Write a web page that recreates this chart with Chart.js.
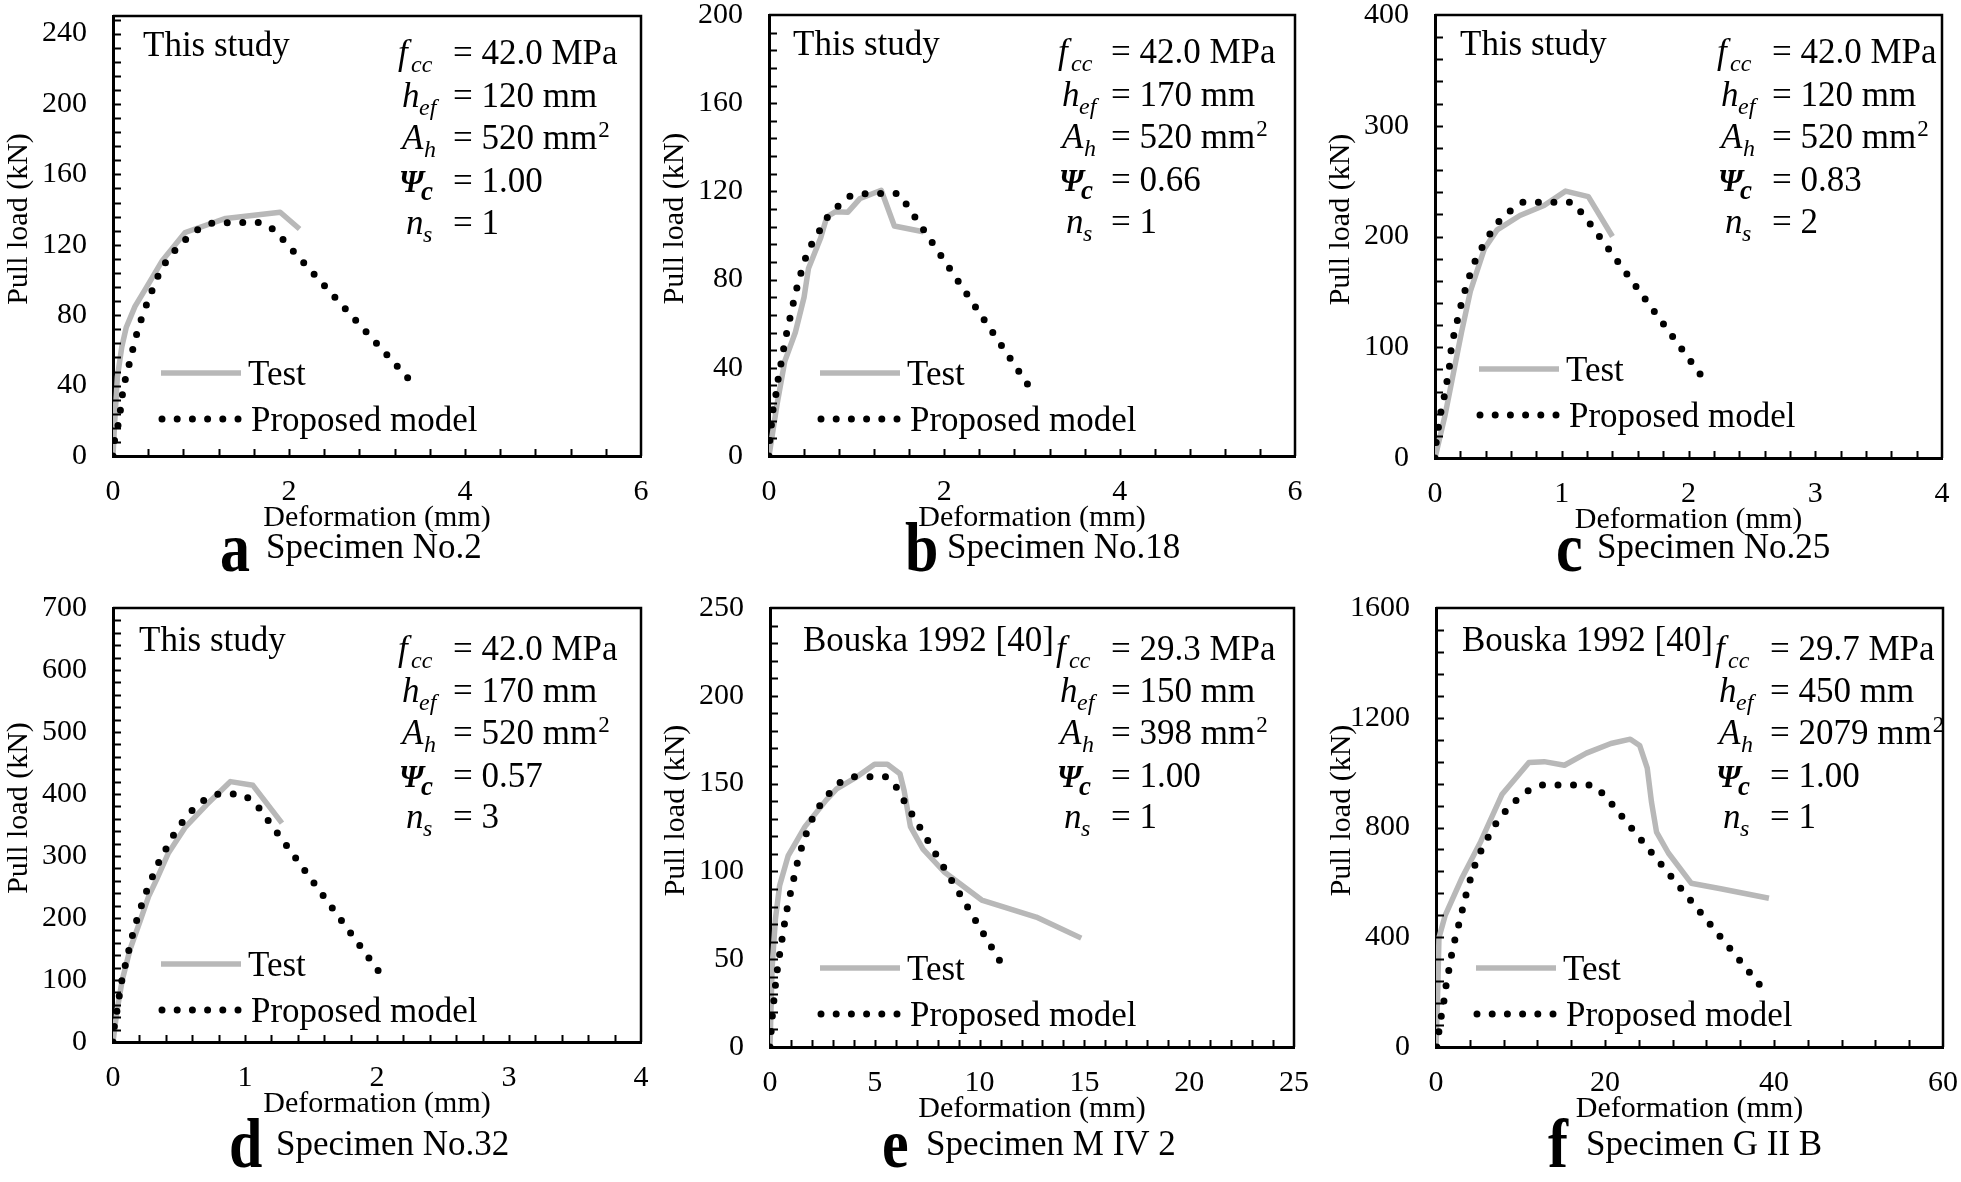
<!DOCTYPE html>
<html>
<head>
<meta charset="utf-8">
<script src="https://cdn.jsdelivr.net/npm/chart.js"></script>
<style>
  html, body { margin: 0; padding: 0; background: #fff; }
  body { width: 1961px; height: 1182px; position: relative; overflow: hidden; }
  canvas { position: absolute; }
</style>
</head>
<body>
<script>
// ---- data ----
// a  Specimen No.2
const testA = [[0,0],[0.02,20],[0.05,45],[0.1,62],[0.15,73],[0.25,85],[0.37,95],[0.56,111],[0.82,127],[1.28,135],[1.9,138.5],[2.12,129]];
const modelA = [[0,0],[0.02,10],[0.06,18],[0.09,28],[0.11,36],[0.15,46],[0.2,55],[0.24,64],[0.29,73],[0.35,82],[0.42,91],[0.49,100],[0.57,108],[0.68,115.5],[0.81,122.4],[0.95,128.3],[1.12,132.2],[1.31,132.6],[1.68,132.6],[1.84,128.3],[1.96,121.3],[3.46,38.3]];
// b  Specimen No.18
const testB = [[0,0],[0.09,23],[0.18,43],[0.3,56],[0.4,72],[0.45,85],[0.59,99],[0.66,108.5],[0.76,110.8],[0.9,110.6],[1.04,116.8],[1.28,120.5],[1.43,104.3],[1.76,101.7]];
const modelB = [[0,0],[0.01,7.7],[0.03,15],[0.05,22.6],[0.09,30],[0.11,36.8],[0.15,44.4],[0.18,52],[0.22,59],[0.26,66.3],[0.3,73.5],[0.35,81],[0.4,88],[0.47,95],[0.56,101],[0.66,108],[0.78,113],[0.93,118],[1.11,119],[1.48,119],[1.59,112.8],[2.95,32.5]];
// c  Specimen No.25
const testC = [[0,0],[0.08,39],[0.21,114],[0.28,151],[0.39,189],[0.49,206],[0.67,219],[0.86,228],[1.03,241],[1.21,236],[1.4,200]];
const modelC = [[0,0],[0.01,15],[0.03,30],[0.05,44],[0.08,59],[0.1,73],[0.12,87],[0.13,102],[0.16,116],[0.19,131],[0.22,145],[0.26,160],[0.3,174],[0.36,188],[0.42,200],[0.49,212],[0.58,222],[0.69,231],[1.08,231],[1.16,221],[1.24,209],[2.16,65]];
// d  Specimen No.32
const testD = [[0,0],[0.03,50],[0.07,100],[0.13,150],[0.2,192],[0.27,235],[0.33,262],[0.42,305],[0.55,347],[0.71,383],[0.89,420],[1.06,414],[1.28,353]];
const modelD = [[0,0],[0.01,25],[0.03,50],[0.05,78],[0.07,103],[0.1,130],[0.13,157],[0.16,183],[0.2,210],[0.24,236],[0.29,262],[0.34,287],[0.4,311],[0.46,334],[0.53,356],[0.61,376],[0.7,392],[0.8,400],[0.97,400],[1.07,388],[2.03,109]];
// e  Specimen M IV 2
const testE = [[0,0],[0.1,45],[0.26,73],[0.46,92],[0.87,109],[1.67,125.5],[2.68,140.6],[3.18,147],[4.08,153.4],[4.99,161],[5.6,161],[6.2,155.6],[6.4,146],[6.7,125.5],[7.3,112.7],[8.3,99.8],[10.1,83.7],[12.7,74],[14.85,62]];
const modelE = [[0,0],[0.06,9.7],[0.12,18.9],[0.2,28.3],[0.28,37.6],[0.38,46.6],[0.5,55.8],[0.62,64.8],[0.74,74],[0.89,83.3],[1.07,92.3],[1.23,101.5],[1.43,110.5],[1.67,119.7],[1.97,128.8],[2.33,136.7],[2.78,143.8],[3.34,150.6],[4.04,153.9],[5.57,153.9],[6.1,147],[6.46,138.8],[11.3,42.3]];
// f  Specimen G II B
const testF = [[0,0],[0.2,200],[0.35,398],[1.1,481],[3.1,618],[5.3,749],[7.8,920],[11,1037],[12.8,1040],[15.2,1027],[17.8,1071],[20.7,1106],[23,1122],[24.1,1099],[25,1016],[25.5,893],[26.1,783],[27.5,707],[30.2,597],[33.7,577],[39.4,542]];
const modelF = [[0.1,0],[0.35,58],[0.65,117],[1,178],[1.24,236],[1.6,293],[1.94,353],[2.4,412],[2.9,470],[3.33,529],[3.83,587],[4.4,646],[5.07,700],[5.97,753],[6.9,806],[8.06,854],[9.4,897],[10.9,934],[12.6,955],[18.5,955],[19.9,920],[38.3,227]];

// tick labels
const xTicksA = [0, 2, 4, 6],           yTicksA = [0, 40, 80, 120, 160, 200, 240];
const xTicksB = [0, 2, 4, 6],           yTicksB = [0, 40, 80, 120, 160, 200];
const xTicksC = [0, 1, 2, 3, 4],        yTicksC = [0, 100, 200, 300, 400];
const xTicksD = [0, 1, 2, 3, 4],        yTicksD = [0, 100, 200, 300, 400, 500, 600, 700];
const xTicksE = [0, 5, 10, 15, 20, 25], yTicksE = [0, 50, 100, 150, 200, 250];
const xTicksF = [0, 20, 40, 60],        yTicksF = [0, 400, 800, 1200, 1600];

// annotation texts
const notes = ['This study', 'This study', 'This study', 'This study', 'Bouska 1992 [40]', 'Bouska 1992 [40]'];
const fccVals = ['42.0', '42.0', '42.0', '42.0', '29.3', '29.7'];
const hefVals = ['120', '170', '120', '170', '150', '450'];
const ahVals = ['520', '520', '520', '520', '398', '2079'];
const psiVals = ['1.00', '0.66', '0.83', '0.57', '1.00', '1.00'];
const nsVals = ['1', '1', '2', '3', '1', '1'];
const captionLetters = ['a', 'b', 'c', 'd', 'e', 'f'];
const captionTexts = ['Specimen No.2', 'Specimen No.18', 'Specimen No.25', 'Specimen No.32', 'Specimen M IV 2', 'Specimen G II B'];

// ---- layout ----
const FONT = '"Liberation Serif", "Times New Roman", serif';
const GRAY = '#b8b8b8';
Chart.defaults.font.family = FONT;
Chart.defaults.color = '#000';

const PAD_L = 115, PAD_T = 50, PAD_R = 60, PAD_B = 130;

const panels = [
  { box: [113, 16, 641, 456],    test: testA, model: modelA, xMax: 6,  yMax: 250,  xTicks: xTicksA, yTicks: yTicksA, xMinor: 0.4, yMinor: 8,
    row: 0, noteDx: 30, symDx: 285, eqDx: 340, leg: [161, 373],   capX: [220, 266] },
  { box: [769, 15, 1295, 456],   test: testB, model: modelB, xMax: 6,  yMax: 200,  xTicks: xTicksB, yTicks: yTicksB, xMinor: 0.4, yMinor: 8,
    row: 0, noteDx: 24, symDx: 289, eqDx: 342, leg: [820, 373],   capX: [905, 947] },
  { box: [1435, 15, 1942, 458],  test: testC, model: modelC, xMax: 4,  yMax: 400,  xTicks: xTicksC, yTicks: yTicksC, xMinor: 0.2, yMinor: 20,
    row: 0, noteDx: 25, symDx: 282, eqDx: 337, leg: [1479, 369],  capX: [1556, 1597] },
  { box: [113, 608, 641, 1042],  test: testD, model: modelD, xMax: 4,  yMax: 700,  xTicks: xTicksD, yTicks: yTicksD, xMinor: 0.2, yMinor: 20,
    row: 1, noteDx: 26, symDx: 285, eqDx: 340, leg: [161, 964],   capX: [229, 276] },
  { box: [770, 608, 1294, 1047], test: testE, model: modelE, xMax: 25, yMax: 250,  xTicks: xTicksE, yTicks: yTicksE, xMinor: 1,   yMinor: 10,
    row: 1, noteDx: 33, symDx: 286, eqDx: 341, leg: [820, 968],   capX: [882, 926] },
  { box: [1436, 608, 1943, 1047], test: testF, model: modelF, xMax: 60, yMax: 1600, xTicks: xTicksF, yTicks: yTicksF, xMinor: 4,   yMinor: 80,
    row: 1, noteDx: 26, symDx: 279, eqDx: 334, leg: [1476, 968],  capX: [1548, 1586] }
];

const ROW_DY = [[48, 91, 133, 176, 218], [52, 94, 136, 179, 220]];
const NOTE_DY = [40, 43];
const CAP_BASE = [[571, 558], [1167, 1155]];

function drawParams(ctx, p, i) {
  const [L, T] = p.box;
  ctx.fillStyle = '#000';
  ctx.textAlign = 'left';
  ctx.textBaseline = 'alphabetic';
  ctx.font = `35px ${FONT}`;
  ctx.fillText(notes[i], L + p.noteDx, T + NOTE_DY[p.row]);

  const rows = [
    { sym: 'f', sub: 'cc', dx: 0,  sdx: 13, val: `= ${fccVals[i]} MPa` },
    { sym: 'h', sub: 'ef', dx: 4,  sdx: 17, val: `= ${hefVals[i]} mm` },
    { sym: 'A', sub: 'h',  dx: 4,  sdx: 22, val: `= ${ahVals[i]} mm`, sup: '2' },
    { sym: '\u03A8', sub: 'c', dx: 1, sdx: 22, val: `= ${psiVals[i]}`, bold: true },
    { sym: 'n', sub: 's',  dx: 8,  sdx: 17, val: `= ${nsVals[i]}` }
  ];
  rows.forEach((r, k) => {
    const y = T + ROW_DY[p.row][k];
    const x = L + p.symDx + r.dx;
    if (r.bold) {
      ctx.font = `bold italic 31px ${FONT}`;
      ctx.fillText(r.sym, x, y);
      ctx.font = `bold italic 27px ${FONT}`;
      ctx.fillText(r.sub, x + r.sdx, y + 8);
    } else {
      ctx.font = `italic 35px ${FONT}`;
      ctx.fillText(r.sym, x, y);
      ctx.font = `italic 24px ${FONT}`;
      ctx.fillText(r.sub, x + r.sdx, y + 8);
    }
    ctx.font = `35px ${FONT}`;
    ctx.fillText(r.val, L + p.eqDx, y);
    if (r.sup) {
      const wv = ctx.measureText(r.val).width;
      ctx.font = `23px ${FONT}`;
      ctx.fillText(r.sup, L + p.eqDx + wv + 1, y - 12);
    }
  });
}

function drawLegend(ctx, p) {
  const [x0, y0] = p.leg;
  ctx.save();
  ctx.strokeStyle = GRAY;
  ctx.lineWidth = 5.5;
  ctx.beginPath();
  ctx.moveTo(x0, y0);
  ctx.lineTo(x0 + 80, y0);
  ctx.stroke();
  ctx.strokeStyle = '#000';
  ctx.lineWidth = 7;
  ctx.lineCap = 'round';
  ctx.setLineDash([0, 15.2]);
  ctx.beginPath();
  ctx.moveTo(x0 + 1, y0 + 46);
  ctx.lineTo(x0 + 78, y0 + 46);
  ctx.stroke();
  ctx.restore();
  ctx.fillStyle = '#000';
  ctx.font = `35px ${FONT}`;
  ctx.textAlign = 'left';
  ctx.textBaseline = 'alphabetic';
  ctx.fillText('Test', x0 + 87, y0 + 12);
  ctx.fillText('Proposed model', x0 + 90, y0 + 58);
}

function panelPlugin(p, i, offX, offY) {
  return {
    id: 'panelDecor' + i,
    afterDraw(chart) {
      const ctx = chart.ctx;
      const a = chart.chartArea;
      const xs = chart.scales.x, ys = chart.scales.y;
      ctx.save();
      // top and right frame
      ctx.strokeStyle = '#000';
      ctx.lineWidth = 2.5;
      ctx.beginPath();
      ctx.moveTo(a.left, a.top);
      ctx.lineTo(a.right, a.top);
      ctx.lineTo(a.right, a.bottom);
      ctx.stroke();
      // inside tick marks
      ctx.lineWidth = 2;
      ctx.beginPath();
      for (let v = p.xMinor; v < p.xMax - 1e-9; v += p.xMinor) {
        const px = Math.round(xs.getPixelForValue(v)) + 0.5;
        ctx.moveTo(px, a.bottom);
        ctx.lineTo(px, a.bottom - 7);
      }
      for (let v = p.yMinor; v < p.yMax - 1e-9; v += p.yMinor) {
        const py = Math.round(ys.getPixelForValue(v)) + 0.5;
        ctx.moveTo(a.left, py);
        ctx.lineTo(a.left + 8, py);
      }
      ctx.stroke();

      // everything below uses page coordinates
      ctx.translate(-offX, -offY);
      const [L, T, R, B] = p.box;
      // y axis title
      ctx.save();
      ctx.translate(L - 94, (T + B) / 2 - 17);
      ctx.rotate(-Math.PI / 2);
      ctx.font = `30px ${FONT}`;
      ctx.fillStyle = '#000';
      ctx.textAlign = 'center';
      ctx.textBaseline = 'middle';
      ctx.fillText('Pull load (kN)', 0, 0);
      ctx.restore();

      drawParams(ctx, p, i);
      drawLegend(ctx, p);

      // caption
      const [lb, tb] = CAP_BASE[p.row];
      ctx.fillStyle = '#000';
      ctx.textAlign = 'left';
      ctx.textBaseline = 'alphabetic';
      ctx.save();
      ctx.translate(p.capX[0], lb);
      ctx.scale(1, 1.15);
      ctx.font = `bold 60px ${FONT}`;
      ctx.fillText(captionLetters[i], 0, 0);
      ctx.restore();
      ctx.font = `35px ${FONT}`;
      ctx.fillText(captionTexts[i], p.capX[1], tb);
      ctx.restore();
    }
  };
}

function makeChart(p, i) {
  const [L, T, R, B] = p.box;
  const left = L - PAD_L, top = T - PAD_T;
  const w = R - L + PAD_L + PAD_R, h = B - T + PAD_T + PAD_B;
  const cv = document.createElement('canvas');
  cv.width = w; cv.height = h;
  cv.style.left = left + 'px'; cv.style.top = top + 'px';
  cv.style.width = w + 'px'; cv.style.height = h + 'px';
  document.body.appendChild(cv);

  const tickFont = { family: FONT, size: 30 };
  new Chart(cv, {
    type: 'scatter',
    data: {
      datasets: [
        {
          label: 'Test',
          data: p.test.map(([x, y]) => ({ x, y })),
          showLine: true,
          borderColor: GRAY,
          borderWidth: 5.5,
          borderJoinStyle: 'round',
          pointRadius: 0,
          order: 2
        },
        {
          label: 'Proposed model',
          data: p.model.map(([x, y]) => ({ x, y })),
          showLine: true,
          borderColor: '#000',
          borderWidth: 7,
          borderDash: [0, 15.5],
          borderCapStyle: 'round',
          borderJoinStyle: 'round',
          pointRadius: 0,
          order: 1
        }
      ]
    },
    options: {
      responsive: false,
      animation: false,
      devicePixelRatio: 1,
      layout: { padding: { left: 0, top: PAD_T, right: PAD_R, bottom: 0 } },
      plugins: { legend: { display: false }, tooltip: { enabled: false } },
      scales: {
        x: {
          type: 'linear',
          min: 0,
          max: p.xMax,
          grid: { display: false, drawTicks: false },
          border: { display: true, color: '#000', width: 3 },
          ticks: { padding: 18, font: tickFont, color: '#000', maxRotation: 0, autoSkip: false, includeBounds: false,
                   callback: v => String(v) },
          afterBuildTicks: s => { s.ticks = p.xTicks.map(v => ({ value: v })); },
          afterFit: s => { s.height = PAD_B; },
          title: { display: true, text: 'Deformation (mm)', font: tickFont, color: '#000', padding: { top: 0, bottom: 50 } }
        },
        y: {
          type: 'linear',
          min: 0,
          max: p.yMax,
          grid: { display: false, drawTicks: false },
          border: { display: true, color: '#000', width: 3 },
          ticks: { padding: 26, font: tickFont, color: '#000', autoSkip: false, includeBounds: false,
                   callback: v => String(v) },
          afterBuildTicks: s => { s.ticks = p.yTicks.map(v => ({ value: v })); },
          afterFit: s => { s.width = PAD_L; }
        }
      }
    },
    plugins: [panelPlugin(p, i, left, top)]
  });
}

panels.forEach(makeChart);
</script>
</body>
</html>
